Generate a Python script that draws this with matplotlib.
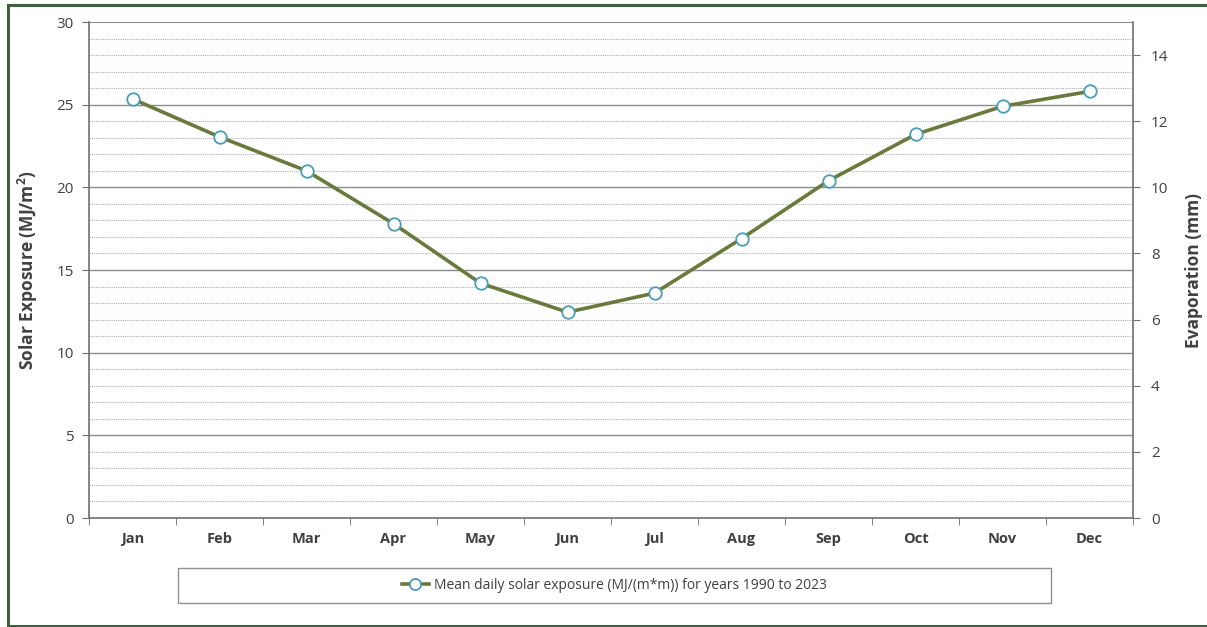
import matplotlib
matplotlib.use("Agg")
import matplotlib.pyplot as plt
from matplotlib.patches import Rectangle
from matplotlib.lines import Line2D
import numpy as np

months = ["Jan", "Feb", "Mar", "Apr", "May", "Jun", "Jul", "Aug", "Sep", "Oct", "Nov", "Dec"]
solar = [25.35, 23.05, 21.0, 17.8, 14.2, 12.45, 13.6, 16.9, 20.4, 23.2, 24.9, 25.8]
left_ticks = [0, 5, 10, 15, 20, 25, 30]
right_ticks = [0, 2, 4, 6, 8, 10, 12, 14]
legend_label = "Mean daily solar exposure (MJ/(m*m)) for years 1990 to 2023"

plt.rcParams['font.family'] = ['Open Sans', 'DejaVu Sans']
W, H = 1207, 627
fig = plt.figure(figsize=(W / 100, H / 100), dpi=100)
fig.patch.set_facecolor("white")

# outer frame (left, top, bottom edges)
frame_kw = dict(transform=fig.transFigure, color="#3f5f3f", linewidth=2.2)
fig.lines.append(Line2D([7.5 / W, 7.5 / W], [1 - 4.5 / H, 1 - 625.5 / H], **frame_kw))
fig.lines.append(Line2D([7.5 / W, 1.0], [1 - 4.5 / H, 1 - 4.5 / H], **frame_kw))
fig.lines.append(Line2D([7.5 / W, 1.0], [1 - 625.5 / H, 1 - 625.5 / H], **frame_kw))

ax = fig.add_axes([89 / W, 1 - 518 / H, (1133 - 89) / W, (518 - 22) / H])
x = np.arange(len(months))
ax.set_xlim(-0.5, len(months) - 0.5)
ax.set_ylim(0, 30)

# gridlines
for v in range(1, 30):
    if v % 5 == 0:
        ax.axhline(v, color="#8c8c8c", linewidth=1.0, zorder=1)
    else:
        ax.axhline(v, color="#b0b0b0", linewidth=0.8, linestyle=(0, (1, 1)), zorder=1)

ax.plot(x, solar, color="#6a7a3c", linewidth=2.6, marker="o", markersize=9,
        markerfacecolor="white", markeredgecolor="#4a9fb3", markeredgewidth=1.3, zorder=3,
        solid_joinstyle="round")

ax.set_yticks(left_ticks)
ax.set_yticklabels([str(t) for t in left_ticks], fontsize=11, color="#404040")
ax.set_xticks(x)
ax.set_xticklabels(months, fontsize=10.5, fontweight="bold", color="#404040")
ax.tick_params(axis="x", length=0, pad=10)
ax.set_xticks(np.arange(-0.5, len(months)), minor=True)
ax.tick_params(axis="x", which="minor", length=5, color="#707070")
ax.tick_params(axis="y", length=5, color="#707070", pad=6)

for side in ["top", "right"]:
    ax.spines[side].set_visible(False)
for side in ["left", "bottom"]:
    ax.spines[side].set_color("#707070")
    ax.spines[side].set_linewidth(1.2)
ax.axhline(30, color="#707070", linewidth=1.2, zorder=1)

ax.set_ylabel("Solar Exposure (MJ/m$^\\mathregular{2}$)", fontsize=12.5, fontweight="bold", color="#404040", labelpad=12)

ax2 = ax.twinx()
ax2.set_ylim(0, 15)
ax2.set_yticks(right_ticks)
ax2.set_yticklabels([str(t) for t in right_ticks], fontsize=11, color="#404040")
ax2.tick_params(axis="y", length=5, color="#707070", pad=8)
for side in ["top", "left", "bottom"]:
    ax2.spines[side].set_visible(False)
ax2.spines["right"].set_color("#707070")
ax2.spines["right"].set_linewidth(1.2)
ax2.set_ylabel("Evaporation (mm)", fontsize=12.5, fontweight="bold", color="#404040", labelpad=12)

# legend box
fig.patches.append(Rectangle((178 / W, 1 - 603 / H), (1051 - 178) / W, 35 / H, transform=fig.transFigure,
                             fill=True, facecolor="white", edgecolor="#909090", linewidth=1))
handle = Line2D([], [], color="#6a7a3c", linewidth=2.6, marker="o", markersize=8,
                markerfacecolor="white", markeredgecolor="#4a9fb3", markeredgewidth=1.3)
fig.legend([handle], [legend_label], loc="center", bbox_to_anchor=(614 / W, 1 - 585.5 / H),
           frameon=False, fontsize=10, handlelength=2.0, handletextpad=0.3, labelcolor="#404040")

fig.savefig("out.png", dpi=100)
